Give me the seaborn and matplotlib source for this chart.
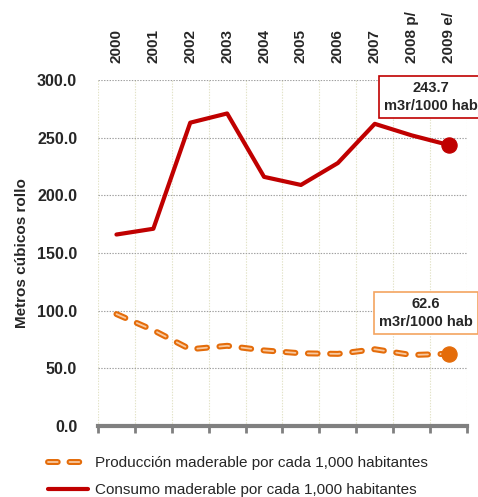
import pandas as pd
import seaborn as sns
import matplotlib.pyplot as plt
from matplotlib.ticker import FixedLocator
from matplotlib.lines import Line2D
from matplotlib.legend_handler import HandlerTuple

years = ["2000", "2001", "2002", "2003", "2004", "2005", "2006", "2007", "2008 p/", "2009 e/"]
consumo = [166.0, 171.0, 263.0, 271.0, 216.0, 209.0, 228.0, 262.0, 252.0, 243.7]
produccion = [97.0, 83.0, 66.5, 69.5, 65.5, 63.0, 62.5, 66.5, 61.5, 62.6]
yticks = [0, 50, 100, 150, 200, 250, 300]

RED = "#C00000"
ORANGE = "#E46C0A"
LIGHT = "#F8C9A0"

sns.set_theme(style="white")
plt.rcParams['font.family'] = ['Liberation Sans Narrow', 'Liberation Sans', 'DejaVu Sans']
plt.rcParams['lines.scale_dashes'] = False

df = pd.DataFrame({"year": years, "consumo": consumo, "produccion": produccion})

fig = plt.figure(figsize=(4.78, 4.97), dpi=100)
ax = fig.add_axes([0.205, 0.143, 0.772, 0.696])

dash = (0, (7, 9))
sns.lineplot(data=df, x="year", y="produccion", ax=ax, color=ORANGE, lw=4.3,
             linestyle=dash, dash_capstyle="round", sort=False)
sns.lineplot(data=df, x="year", y="produccion", ax=ax, color=LIGHT, lw=1.3,
             linestyle=dash, dash_capstyle="round", sort=False)
sns.lineplot(data=df, x="year", y="consumo", ax=ax, color=RED, lw=3.0, sort=False)
sns.scatterplot(data=df.iloc[[-1]], x="year", y="consumo", ax=ax, color=RED, s=120,
                edgecolor=RED, zorder=5)
sns.scatterplot(data=df.iloc[[-1]], x="year", y="produccion", ax=ax, color=ORANGE, s=120,
                edgecolor=ORANGE, zorder=5)

ax.set_xlim(-0.5, len(years) - 0.5)
ax.set_ylim(0, 300)
ax.set_yticks(yticks)
ax.set_yticklabels([f"{v:.1f}" for v in yticks], fontsize=11.5, fontweight="bold")
ax.yaxis.grid(True, color="#a0a0a0", linestyle=(0, (1, 1)), lw=0.8)

ax.xaxis.tick_top()
ax.set_xticks(range(len(years)))
ax.set_xticklabels(years, rotation=90, fontsize=11, fontweight="bold")
ax.tick_params(axis="x", which="major", length=0, pad=12)
ax.tick_params(axis="y", length=0, pad=15)
ax.xaxis.set_minor_locator(FixedLocator([i - 0.5 for i in range(len(years) + 1)]))
ax.tick_params(axis="x", which="minor", bottom=True, top=False, length=5, width=2,
               color="#808080", direction="out")
ax.xaxis.grid(True, which="minor", color="#e3e3c8", linestyle=(0, (1, 1)), lw=0.8)
ax.xaxis.grid(False, which="major")

for s in ["top", "left", "right"]:
    ax.spines[s].set_visible(False)
ax.spines["bottom"].set_color("#808080")
ax.spines["bottom"].set_linewidth(3)

ax.set_xlabel("")
ax.set_ylabel("Metros cúbicos rollo", fontsize=11, fontweight="bold", labelpad=6)

ax.text(8.52, 285, "243.7\nm3r/1000 hab", ha="center", va="center", fontsize=10.5,
        fontweight="bold", linespacing=1.35, clip_on=False,
        bbox=dict(boxstyle="square,pad=0.35", fc="white", ec=RED, lw=1.2))
ax.text(8.38, 98, "62.6\nm3r/1000 hab", ha="center", va="center", fontsize=10.5,
        fontweight="bold", linespacing=1.35, clip_on=False,
        bbox=dict(boxstyle="square,pad=0.35", fc="white", ec="#F4A460", lw=1.2))

leg_dash = (0, (7, 8.5))
h_prod = (Line2D([], [], color=ORANGE, lw=4.3, linestyle=leg_dash, dash_capstyle="round"),
          Line2D([], [], color=LIGHT, lw=1.3, linestyle=leg_dash, dash_capstyle="round"))
h_cons = Line2D([], [], color=RED, lw=3.0)
fig.legend([h_prod, h_cons],
           ["Producción maderable por cada 1,000 habitantes",
            "Consumo maderable por cada 1,000 habitantes"],
           handler_map={tuple: HandlerTuple(ndivide=1)},
           loc="upper left", bbox_to_anchor=(0.1, 0.082), frameon=False,
           fontsize=11, handlelength=2.6, handletextpad=0.5, labelspacing=0.85,
           borderaxespad=0, borderpad=0)

fig.savefig("out.png", dpi=100)
